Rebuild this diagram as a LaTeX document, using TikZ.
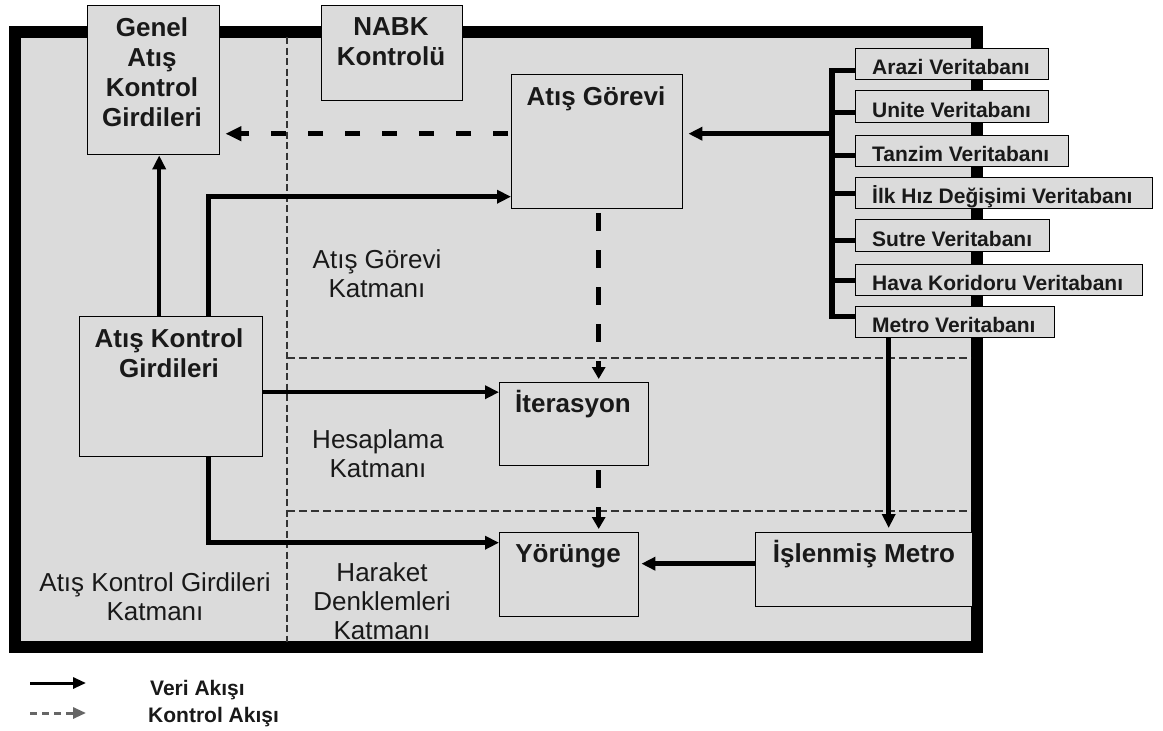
\documentclass[tikz,border=0pt]{standalone}
\usepackage{fontspec}
\setmainfont{Liberation Sans}
\usetikzlibrary{arrows.meta}
\definecolor{bg}{RGB}{219,219,219}
\begin{document}
\begin{tikzpicture}[x=1pt,y=-1pt,
  box/.style={draw=black, line width=1.4pt, fill=bg, inner sep=0pt, anchor=north west},
  btext/.style={font=\fontsize{26}{30}\selectfont\bfseries, align=center, inner sep=0pt, text=black!90},
  ltext/.style={font=\fontsize{26}{29}\selectfont, align=center, inner sep=0pt, text=black!90},
  dbtext/.style={font=\fontsize{21}{25}\selectfont\bfseries, anchor=base west, inner sep=0pt, text=black!90},
  arr/.style={line width=4.5pt, -{Triangle[length=14pt,width=13pt]}},
  darrv/.style={line width=4.5pt, dash pattern=on 18pt off 19pt, dash phase=33pt, -{Triangle[length=12pt,width=13pt]}},
  darrh/.style={line width=4.5pt, dash pattern=on 15pt off 22pt, dash phase=34pt, -{Triangle[length=16pt,width=14pt]}},
  layer/.style={line width=1.2pt, dash pattern=on 8pt off 4pt, draw=black!80},
  vlayer/.style={line width=1.2pt, dash pattern=on 7pt off 3.5pt, draw=black!80},
  bus/.style={line width=5.5pt},
  legarr/.style={line width=3pt, -{Triangle[length=13pt,width=11pt]}},
  legdarr/.style={line width=3pt, draw=black!60, dash pattern=on 7pt off 5pt, -{Triangle[length=13pt,width=11pt]}},
  legtext/.style={font=\fontsize{21}{25}\selectfont\bfseries, anchor=base west, inner sep=0pt, text=black!90}
]
\useasboundingbox (0,0) rectangle (1163,731);
\fill[white] (0,0) rectangle (1163,731);

% outer frame
\draw[line width=12pt, fill=bg] (15,32) rectangle (977,647);

% layer separators
\draw[vlayer] (287,37) -- (287,642);
\draw[layer] (287,358) -- (971,358);
\draw[layer] (287,511) -- (971,511);

% layer labels
\node[ltext] (lgorev) at (377,274) {Atış Görevi\\Katmanı};
\node[ltext] (lhesap) at (378,454) {Hesaplama\\Katmanı};
\node[ltext] (lhar) at (382,601) {Haraket\\Denklemleri\\Katmanı};
\node[ltext] (lakg) at (155,597) {Atış Kontrol Girdileri\\Katmanı};

% main boxes
\node[box, minimum width=132pt, minimum height=149pt] (genel) at (87,5) {};
\node[btext] (genelT) at (152,72) {Genel\\Atış\\Kontrol\\Girdileri};
\node[box, minimum width=141pt, minimum height=95pt] (nabk) at (321,5) {};
\node[btext] (nabkT) at (391,42) {NABK\\Kontrolü};
\node[box, minimum width=171pt, minimum height=134pt] (gorev) at (511,74) {};
\node[btext, anchor=base] (gorevT) at (596,105) {Atış Görevi};
\node[box, minimum width=183pt, minimum height=140pt] (akg) at (79,316) {};
\node[btext] (akgT) at (169,353) {Atış Kontrol\\Girdileri};
\node[box, minimum width=149pt, minimum height=83pt] (iter) at (499,382) {};
\node[btext, anchor=base] (iterT) at (573,412) {İterasyon};
\node[box, minimum width=139pt, minimum height=84pt] (yor) at (499,532) {};
\node[btext, anchor=base] (yorT) at (568,562) {Yörünge};
\node[box, minimum width=217pt, minimum height=74pt] (islen) at (755,532) {};
\node[btext, anchor=base] (islenT) at (864,562) {İşlenmiş Metro};

% database boxes
\node[box, minimum width=193pt, minimum height=31pt] (arazi) at (855,48) {};
\node[box, minimum width=193pt, minimum height=32pt] (unite) at (855,90) {};
\node[box, minimum width=213pt, minimum height=31pt] (tanzim) at (855,135) {};
\node[box, minimum width=297pt, minimum height=31pt] (ilk) at (855,177) {};
\node[box, minimum width=194pt, minimum height=32pt] (sutre) at (855,219) {};
\node[box, minimum width=287pt, minimum height=31pt] (hava) at (855,264) {};
\node[box, minimum width=199pt, minimum height=31pt] (metro) at (855,306) {};
\node[dbtext] (araziT) at ([xshift=17pt,yshift=6pt]arazi.south west) {Arazi Veritabanı};
\node[dbtext] (uniteT) at ([xshift=17pt,yshift=6pt]unite.south west) {Unite Veritabanı};
\node[dbtext] (tanzimT) at ([xshift=17pt,yshift=6pt]tanzim.south west) {Tanzim Veritabanı};
\node[dbtext] (ilkT) at ([xshift=17pt,yshift=6pt]ilk.south west) {İlk Hız Değişimi Veritabanı};
\node[dbtext] (sutreT) at ([xshift=17pt,yshift=6pt]sutre.south west) {Sutre Veritabanı};
\node[dbtext] (havaT) at ([xshift=17pt,yshift=6pt]hava.south west) {Hava Koridoru Veritabanı};
\node[dbtext] (metroT) at ([xshift=17pt,yshift=6pt]metro.south west) {Metro Veritabanı};

% database bus
\coordinate (bx) at (832,0);
\draw[bus] ([yshift=10pt]arazi.south west) -- ([yshift=10pt]arazi.south west -| bx)
  -- ([yshift=22pt]metro.south west -| bx) -- ([yshift=22pt]metro.south west);
\draw[bus] ([yshift=11pt]unite.south west) -- ([yshift=11pt]unite.south west -| bx);
\draw[bus] ([yshift=12pt]tanzim.south west) -- ([yshift=12pt]tanzim.south west -| bx);
\draw[bus] ([yshift=16pt]ilk.south west) -- ([yshift=16pt]ilk.south west -| bx);
\draw[bus] ([yshift=12pt]sutre.south west) -- ([yshift=12pt]sutre.south west -| bx);
\draw[bus] ([yshift=16pt]hava.south west) -- ([yshift=16pt]hava.south west -| bx);
\draw[arr, shorten >=5pt] ([yshift=8pt]gorev.east -| bx) -- ([yshift=8pt]gorev.east);

% data flows
\draw[arr] ([xshift=-12pt]akg.north) -- ([xshift=-12pt]akg.north |- genel.south);
\draw[arr] ([xshift=37.5pt]akg.north) |- ([yshift=-55pt]gorev.west);
\draw[arr] ([yshift=32pt]iter.west -| akg.east) -- ([yshift=32pt]iter.west);
\draw[arr] ([xshift=37.5pt]akg.south) |- ([yshift=32pt]yor.west);
\draw[arr, shorten >=4pt] ([xshift=24.5pt]islen.north |- metro.south) -- ([xshift=24.5pt]islen.north);
\draw[arr, shorten >=2pt] ([yshift=6pt]islen.west) -- ([yshift=6pt]islen.west -| yor.east);

% control flows
\coordinate (dx) at ([xshift=1.5pt]gorev.south);
\draw[darrh, shorten >=5pt] ([yshift=8pt]gorev.west) -- ([yshift=8pt]gorev.west -| genel.east);
\draw[darrv, shorten >=3pt] (dx) -- (dx |- iter.north);
\draw[darrv, shorten >=3pt] (iter.south -| dx) -- (yor.north -| dx);

% legend
\coordinate (l1a) at (30,683);
\coordinate (l1b) at (86,683);
\coordinate (l2a) at (30,713);
\coordinate (l2b) at (86,713);
\draw[legarr] (l1a) -- (l1b);
\draw[legdarr] (l2a) -- (l2b);
\node[legtext] (veri) at (150,695) {Veri Akışı};
\node[legtext] (kontrol) at (148,722) {Kontrol Akışı};
\end{tikzpicture}
\end{document}
